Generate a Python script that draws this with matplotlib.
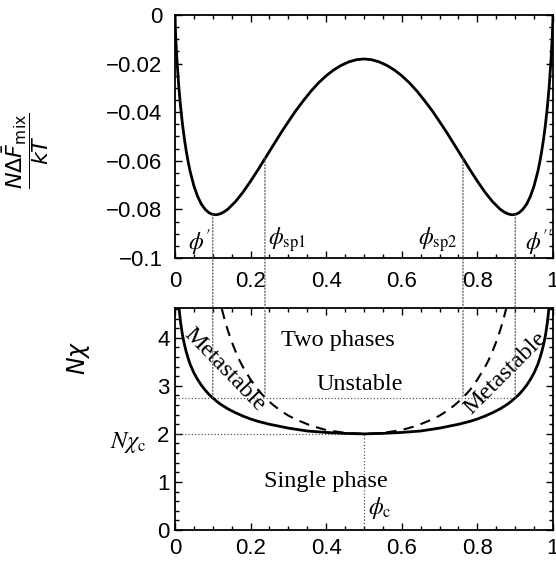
import matplotlib
matplotlib.use("Agg")
import matplotlib.pyplot as plt
from matplotlib.patches import ConnectionPatch
from matplotlib.ticker import MultipleLocator

# free energy of mixing, N*dF/kT vs phi
phi_f = [0.0, 0.001, 0.002, 0.005, 0.01, 0.015, 0.02, 0.025, 0.03, 0.035, 0.04,
         0.05, 0.06, 0.07, 0.08, 0.09, 0.1, 0.11, 0.12, 0.13, 0.14, 0.16, 0.18,
         0.2, 0.22, 0.24, 0.26, 0.28, 0.3, 0.32, 0.34, 0.36, 0.38, 0.4, 0.42,
         0.44, 0.46, 0.48, 0.5,
         0.52, 0.54, 0.56, 0.58, 0.6, 0.62, 0.64, 0.66, 0.68, 0.7, 0.72, 0.74,
         0.76, 0.78, 0.8, 0.82, 0.84, 0.86, 0.87, 0.88, 0.89, 0.9, 0.91, 0.92,
         0.93, 0.94, 0.95, 0.96, 0.965, 0.97, 0.975, 0.98, 0.985, 0.99, 0.995,
         0.998, 0.999, 1.0]
F_mix = [0.0, -0.0052, -0.0090, -0.0180, -0.0293, -0.0380, -0.0451, -0.0511,
         -0.0562, -0.0605, -0.0643, -0.0703, -0.0747, -0.0779, -0.0800, -0.0814,
         -0.0821, -0.0822, -0.0818, -0.0810, -0.0799, -0.0768, -0.0729, -0.0684,
         -0.0636, -0.0586, -0.0536, -0.0486, -0.0439, -0.0393, -0.0352, -0.0313,
         -0.0279, -0.0250, -0.0226, -0.0207, -0.0193, -0.0184, -0.0181,
         -0.0184, -0.0193, -0.0207, -0.0226, -0.0250, -0.0279, -0.0313, -0.0352,
         -0.0393, -0.0439, -0.0486, -0.0536, -0.0586, -0.0636, -0.0684, -0.0729,
         -0.0768, -0.0799, -0.0810, -0.0818, -0.0822, -0.0821, -0.0814, -0.0800,
         -0.0779, -0.0747, -0.0703, -0.0643, -0.0605, -0.0562, -0.0511, -0.0451,
         -0.0380, -0.0293, -0.0180, -0.0090, -0.0052, 0.0]

# binodal (solid) in the lower panel
phi_bin = [0.0107, 0.012, 0.015, 0.02, 0.025, 0.03, 0.035, 0.04, 0.05, 0.06,
           0.07, 0.08, 0.09, 0.1, 0.11, 0.12, 0.13, 0.14, 0.16, 0.18, 0.2, 0.22,
           0.25, 0.3, 0.35, 0.4, 0.45, 0.5,
           0.55, 0.6, 0.65, 0.7, 0.75, 0.78, 0.8, 0.82, 0.84, 0.86, 0.87, 0.88,
           0.89, 0.9, 0.91, 0.92, 0.93, 0.94, 0.95, 0.96, 0.965, 0.97, 0.975,
           0.98, 0.985, 0.988, 0.9893]
Nchi_bin = [4.63, 4.52, 4.31, 4.05, 3.86, 3.70, 3.57, 3.45, 3.27, 3.13, 3.01,
            2.91, 2.82, 2.75, 2.68, 2.62, 2.57, 2.52, 2.44, 2.37, 2.31, 2.26,
            2.20, 2.12, 2.06, 2.03, 2.01, 2.00,
            2.01, 2.03, 2.06, 2.12, 2.20, 2.26, 2.31, 2.37, 2.44, 2.52, 2.57,
            2.62, 2.68, 2.75, 2.82, 2.91, 3.01, 3.13, 3.27, 3.45, 3.57, 3.70,
            3.86, 4.05, 4.31, 4.52, 4.63]

# spinodal (dashed)
phi_sp = [0.124, 0.127, 0.13, 0.135, 0.14, 0.15, 0.16, 0.17, 0.18, 0.2, 0.22,
          0.24, 0.26, 0.28, 0.3, 0.32, 0.36, 0.4, 0.45, 0.5,
          0.55, 0.6, 0.64, 0.68, 0.7, 0.72, 0.74, 0.76, 0.78, 0.8, 0.82, 0.83,
          0.84, 0.85, 0.86, 0.865, 0.87, 0.873, 0.876]
Nchi_sp = [4.60, 4.51, 4.42, 4.28, 4.15, 3.92, 3.72, 3.54, 3.39, 3.13, 2.91,
           2.74, 2.60, 2.48, 2.38, 2.30, 2.17, 2.08, 2.02, 2.00,
           2.02, 2.08, 2.17, 2.30, 2.38, 2.48, 2.60, 2.74, 2.91, 3.13, 3.39,
           3.54, 3.72, 3.92, 4.15, 4.28, 4.42, 4.51, 4.60]

# guide lines: phi', phi_sp1, phi_sp2, phi''
phi_marks = [0.1, 0.238, 0.762, 0.9]
F_marks = [-0.0821, -0.0588, -0.0588, -0.0821]
Nchi_line = 2.75
Nchi_c = 2.0
phi_c = 0.5

xticks = [0, 0.2, 0.4, 0.6, 0.8, 1]
xlabels = ["0", "0.2", "0.4", "0.6", "0.8", "1"]
yticks_top = [-0.1, -0.08, -0.06, -0.04, -0.02, 0]
ylabels_top = ["\u22120.1", "\u22120.08", "\u22120.06", "\u22120.04", "\u22120.02", "0"]
yticks_bot = [0, 1, 2, 3, 4]

plt.rcParams["font.family"] = "Liberation Sans"
plt.rcParams["font.size"] = 16

fig = plt.figure(figsize=(5.56, 5.61), dpi=100)
ax1 = fig.add_axes([0.3147, 0.5401, 0.6799, 0.4332])
ax2 = fig.add_axes([0.3147, 0.0553, 0.6799, 0.3957])

dot = dict(color="0.35", lw=0.9, ls=(0, (1, 1.6)))
serif = dict(family="Liberation Serif", fontsize=17.5)

# ---- top panel
ax1.plot(phi_f, F_mix, color="k", lw=2.0, zorder=3)
ax1.set_xlim(0, 1)
ax1.set_ylim(-0.1, 0)
ax1.set_xticks(xticks)
ax1.set_xticklabels(xlabels)
ax1.set_yticks(yticks_top)
ax1.set_yticklabels(ylabels_top)
ax1.xaxis.set_minor_locator(MultipleLocator(0.05))
ax1.yaxis.set_minor_locator(MultipleLocator(0.005))
ax1.tick_params(axis="x", which="both", pad=9)
ax1.tick_params(axis="y", which="both", pad=9)
fig.text(26 / 556, 1 - 151 / 561, r"$\dfrac{N\Delta\bar{F}_{\mathrm{mix}}}{kT}$",
         fontsize=16, math_fontfamily="dejavusans", rotation=90,
         ha="center", va="center")

phi_txt = dict(fontsize=17, math_fontfamily="stix", va="center")
ax1.text(0.035, -0.0935, r"$\phi'$", **phi_txt)
ax1.text(0.245, -0.0925, r"$\phi_{\mathrm{sp1}}$", **phi_txt)
ax1.text(0.643, -0.0925, r"$\phi_{\mathrm{sp2}}$", **phi_txt)
ax1.text(0.925, -0.0935, r"$\phi''$", **phi_txt)

# ---- bottom panel
ax2.plot(phi_bin, Nchi_bin, color="k", lw=2.0, zorder=3)
ax2.plot(phi_sp, Nchi_sp, color="k", lw=1.5, ls=(0, (5, 3.5)), zorder=3)
ax2.set_xlim(0, 1)
ax2.set_ylim(0, 4.62)
ax2.set_xticks(xticks)
ax2.set_xticklabels(xlabels)
ax2.set_yticks(yticks_bot)
ax2.xaxis.set_minor_locator(MultipleLocator(0.05))
ax2.yaxis.set_minor_locator(MultipleLocator(0.2))
ax2.tick_params(axis="x", which="both", pad=6)
ax2.tick_params(axis="y", which="both", pad=4)
fig.text(78 / 556, 1 - 358 / 561, r"$N\chi$", fontsize=17,
         math_fontfamily="dejavusans", rotation=90, ha="center", va="center")

ax2.plot([0, phi_marks[-1]], [Nchi_line, Nchi_line], **dot)
ax2.plot([0, phi_c], [Nchi_c, Nchi_c], **dot)
ax2.plot([phi_c, phi_c], [0, Nchi_c], **dot)

for x, f in zip(phi_marks, F_marks):
    con = ConnectionPatch(xyA=(x, f), coordsA=ax1.transData,
                          xyB=(x, Nchi_line), coordsB=ax2.transData, **dot)
    fig.add_artist(con)

ax2.text(0.43, 3.95, "Two phases", ha="center", va="center", **serif)
ax2.text(0.49, 3.02, "Unstable", ha="center", va="center", **serif)
ax2.text(0.40, 1.0, "Single phase", ha="center", va="center", **serif)
ax2.text(0.13, 3.33, "Metastable", ha="center", va="center", rotation=-46,
         rotation_mode="anchor", **serif)
ax2.text(0.873, 3.27, "Metastable", ha="center", va="center", rotation=45,
         rotation_mode="anchor", **serif)
ax2.text(0.51, 0.45, r"$\phi_{\mathrm{c}}$", fontsize=17, math_fontfamily="stix",
         va="center")
ax2.text(-0.075, 1.82, r"$N\chi_{\mathrm{c}}$", fontsize=17.5, math_fontfamily="stix",
         ha="right", va="center", transform=ax2.get_yaxis_transform())

for ax in (ax1, ax2):
    ax.tick_params(which="both", direction="in", top=True, right=True, width=1.0)
    ax.tick_params(which="major", length=5)
    ax.tick_params(which="minor", length=3)
    for s in ax.spines.values():
        s.set_linewidth(1.3)

fig.savefig("out.png", dpi=100)
